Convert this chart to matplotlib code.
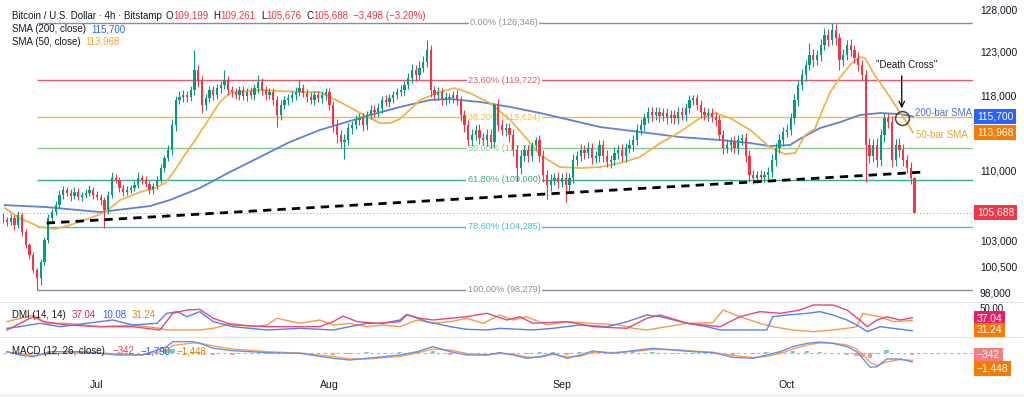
import matplotlib.pyplot as plt
import matplotlib.transforms as mtransforms
from matplotlib.lines import Line2D
from matplotlib.ticker import NullLocator, NullFormatter
import numpy as np

plt.rcParams['font.family'] = ['Liberation Sans', 'DejaVu Sans']

W, H = 1024, 397

# ---------------- data (x = days since 1 Jul, 12h candles) ----------------
bar_start = -12.5
first_open = 105300
closes = [
    104950, 104760, 105150, 104460, 105450, 103780, 102520, 101550, 100130, 99380,
    100890, 103000, 105150, 105750, 106440, 107450, 107960, 107650, 107350, 107750,
    107250, 107450, 107650, 107960, 107450, 107250, 106950, 105950, 107450, 109180,
    108980, 108160, 107750, 107960, 108160, 108470, 109180, 108980, 108570, 107960,
    108370, 108980, 110220, 111260, 112100, 114770, 117500, 117830, 118050, 117830,
    118610, 120860, 119730, 116950, 117720, 118610, 118050, 118830, 119170, 119730,
    118610, 118390, 118050, 118610, 117940, 118390, 118050, 118830, 119510, 118610,
    118050, 118390, 117500, 115850, 116950, 117500, 117720, 118050, 118390, 118830,
    118280, 117830, 117500, 118050, 117720, 118050, 118390, 116950, 114770, 113690,
    112950, 113160, 114440, 114770, 115310, 115520, 114770, 115850, 116400, 116180,
    116620, 117500, 117280, 117720, 118050, 118390, 118610, 119170, 119950, 120860,
    120290, 121090, 121770, 123160, 118610, 118050, 118390, 117500, 117830, 117720,
    118050, 117500, 115850, 114770, 113160, 113690, 114230, 113370, 113160, 113690,
    112950, 116950, 114770, 114230, 114440, 113690, 112100, 110220, 111470, 112100,
    111470, 112630, 113160, 111470, 109490, 108470, 108980, 109180, 108770, 109180,
    108470, 109180, 111050, 111470, 112100, 111790, 112310, 111260, 111470, 112630,
    111470, 110840, 111050, 111790, 112100, 111470, 112310, 112630, 113160, 114230,
    114770, 115520, 116180, 115850, 116180, 115740, 116070, 115520, 115850, 115520,
    116180, 115850, 116620, 117500, 117720, 116950, 116180, 115850, 116070, 115630,
    115310, 113690, 112310, 112630, 112950, 112310, 113160, 113370, 111470, 109490,
    109180, 109490, 109290, 109490, 109800, 111050, 112310, 113160, 114020, 114230,
    115520, 117500, 119170, 120290, 121430, 122580, 122000, 122580, 123740, 124900,
    124320, 125500, 124550, 122000, 122580, 123740, 123160, 122230, 121430, 120290,
    112630, 111470, 112630, 111050, 113690, 115520, 115090, 111050, 112630, 112100,
    111050, 110220, 109199, 105688,
]
# wick lengths beyond the body, in $100
wick_up = [
    4, 3, 4, 3, 4, 2, 3, 2, 3, 2,
    3, 3, 4, 3, 4, 5, 4, 3, 4, 5,
    4, 3, 4, 5, 3, 4, 3, 3, 4, 6,
    4, 3, 3, 4, 3, 4, 6, 3, 4, 3,
    3, 4, 4, 3, 5, 6, 5, 7, 6, 5,
    5, 23, 6, 4, 5, 5, 4, 5, 5, 11,
    5, 4, 5, 4, 5, 4, 6, 5, 8, 5,
    4, 5, 4, 5, 5, 4, 5, 5, 6, 9,
    5, 4, 6, 5, 4, 5, 4, 5, 4, 6,
    5, 6, 5, 4, 6, 5, 5, 4, 5, 6,
    5, 4, 6, 5, 4, 5, 6, 5, 6, 7,
    6, 8, 7, 12, 6, 5, 6, 5, 6, 5,
    5, 6, 5, 6, 5, 6, 5, 6, 5, 6,
    6, 2, 7, 5, 6, 5, 6, 5, 6, 5,
    5, 3, 3, 5, 6, 5, 6, 5, 6, 5,
    6, 5, 6, 5, 6, 5, 6, 5, 5, 5,
    5, 6, 5, 6, 5, 6, 5, 6, 5, 6,
    6, 5, 6, 5, 6, 5, 6, 5, 6, 5,
    5, 6, 5, 6, 3, 5, 6, 5, 6, 5,
    5, 6, 5, 6, 5, 6, 5, 4, 5, 6,
    5, 4, 5, 4, 5, 6, 5, 6, 5, 6,
    6, 7, 6, 7, 6, 14, 7, 6, 7, 8,
    7, 8.5, 7, 6, 7, 6, 7, 6, 7, 6,
    6, 7, 6, 7, 6, 5, 6, 7, 6, 7,
    6, 5, 6, 0.62,
]
wick_dn = [
    3, 4, 3, 5, 3, 4, 3, 4, 3, 11,
    6, 3, 3, 4, 3, 3, 4, 3, 5, 3,
    3, 4, 3, 3, 4, 3, 5, 18, 4, 3,
    3, 4, 4, 3, 3, 3, 3, 4, 3, 4,
    4, 3, 3, 4, 3, 5, 6, 4, 5, 6,
    4, 5, 8, 9, 5, 4, 6, 4, 5, 4,
    5, 6, 4, 5, 4, 5, 4, 6, 5, 5,
    5, 4, 6, 13, 5, 4, 5, 4, 5, 4,
    4, 5, 4, 5, 4, 5, 5, 6, 7, 8,
    6, 18, 5, 6, 4, 5, 6, 5, 4, 5,
    5, 6, 4, 5, 5, 4, 5, 6, 5, 6,
    7, 6, 5, 6, 8, 6, 5, 6, 5, 6,
    6, 5, 6, 7, 5, 6, 5, 6, 5, 6,
    6, 5, 6, 5, 6, 7, 6, 13, 6, 5,
    6, 5, 5, 6, 7, 14, 6, 5, 6, 5,
    17, 6, 5, 6, 5, 6, 5, 6, 5, 6,
    6, 5, 6, 5, 6, 5, 6, 5, 6, 5,
    5, 6, 5, 6, 5, 6, 5, 6, 5, 6,
    6, 5, 6, 5, 6, 5, 6, 5, 6, 5,
    6, 5, 6, 5, 6, 5, 6, 5, 6, 7,
    6, 5, 4, 5, 4, 5, 6, 5, 6, 5,
    5, 6, 7, 6, 7, 6, 8, 6, 7, 6,
    7, 6, 8, 11, 7, 6, 7, 6, 7, 6,
    38, 7, 6, 7, 6, 7, 6, 7, 6, 7,
    6, 5, 6, 0.12,
]

sma200_days = [-12.3, -6.9, 0.4, 7.1, 9.7, 13.7, 17.7, 21.7, 25.7, 29.7, 36.4, 40.4,
               44.4, 47.1, 51.1, 55.1, 59.1, 63.1, 67.1, 72.4, 77.7, 83.1, 87.1, 89.7,
               92.4, 93.7, 96.4, 99.1, 101.7, 104.4, 107.1, 108.8]
sma200 = [106440, 106250, 105750, 106350, 106950, 108160, 109800, 111360, 112950, 114230,
          115850, 116730, 117500, 117610, 117280, 116730, 116070, 115310, 114550, 114020,
          113480, 113160, 112840, 112520, 112630, 113270, 114440, 115090, 115850, 116070,
          115960, 115700]

sma50_days = [-12.3, -10.3, -7.6, -5.6, -3.6, -0.9, 1.1, 3.1, 5.7, 7.7, 9.1, 10.4, 11.7,
              13.1, 13.7, 15.1, 16.4, 17.7, 21.7, 27.1, 29.7, 32.4, 35.1, 37.7, 39.1, 40.4,
              43.1, 45.7, 47.7, 49.7, 52.4, 55.1, 57.1, 59.1, 61.7, 64.4, 67.1, 69.7, 72.4,
              75.1, 77.7, 80.4, 82.4, 84.4, 87.1, 89.7, 91.7, 93.1, 94.4, 95.7, 97.7, 99.1,
              100.4, 101.7, 102.4, 103.7, 105.1, 106.4, 107.3, 108.1, 108.8]
sma50 = [106150, 105150, 104270, 104070, 104460, 105150, 105750, 106950, 107750, 108160,
         108670, 110010, 111570, 113160, 113910, 115630, 117280, 118280, 118610, 118390,
         118390, 117280, 116070, 114980, 114980, 115420, 117500, 118390, 118830, 118280,
         117170, 115310, 113480, 111570, 110320, 110220, 110320, 110730, 111360, 112840,
         114020, 115530, 116070, 115530, 114230, 112420, 111680, 111790, 113690, 114340,
         118280, 120070, 121430, 122350, 122230, 120280, 118610, 116950, 115850, 114880,
         113968]

fib_pct = ["0.00%", "23.60%", "38.20%", "50.00%", "61.80%", "78.60%", "100.00%"]
fib_vals = [126346, 119722, 115624, 112312, 109000, 104285, 98279]
fib_colors = ["#8a8d96", "#e8596b", "#f5b84e", "#86c98a", "#3aa994", "#3cc4d6", "#8a8d96"]

trend_days = [-6.7, 110.1]
trend_vals = [104660, 109800]

# DMI (14, 14)
adx_days = [-12.0, -8.5, -7.2, -4.0, 0.4, 4.8, 8.4, 10.1, 12.0, 13.7, 15.5, 18.1, 22.7,
            27.1, 29.7, 31.5, 32.8, 34.7, 37.3, 40.4, 41.3, 43.1, 44.8, 47.1, 49.3, 52.0,
            54.7, 56.4, 58.1, 62.7, 66.1, 70.7, 73.3, 75.1, 78.7, 83.1, 85.7, 88.4, 91.1,
            93.7, 95.5, 98.1, 100.0, 101.7, 102.7, 104.0, 105.3, 107.1, 108.7]
adx = [11.5, 39.1, 28.8, 21.9, 18.4, 18.4, 11.5, 46.0, 52.9, 54.3, 35.7, 21.9, 18.4,
       18.4, 18.4, 28.8, 40.5, 28.8, 25.3, 28.8, 42.6, 35.7, 32.2, 35.7, 39.1, 46.0,
       32.2, 39.1, 25.3, 28.8, 18.4, 15.0, 35.7, 42.6, 25.3, 18.4, 39.1, 49.5, 46.0,
       52.9, 63.3, 63.3, 52.9, 32.2, 18.4, 32.2, 39.1, 32.2, 37.04]
pdi_days = [-12.0, -10.3, -7.6, -4.9, 0.4, 2.1, 4.8, 8.0, 9.3, 10.7, 12.0, 13.7, 15.5,
            18.1, 22.7, 27.1, 31.5, 33.7, 36.0, 38.1, 40.4, 41.3, 44.0, 47.1, 49.3, 52.0,
            53.7, 58.1, 60.8, 64.4, 68.0, 70.7, 73.3, 75.1, 78.7, 81.3, 83.1, 89.3, 90.1,
            92.0, 94.7, 96.4, 98.1, 100.0, 101.7, 102.7, 104.4, 106.1, 108.7]
pdi = [15.0, 18.4, 25.3, 18.4, 28.8, 32.2, 21.9, 25.3, 46.0, 49.5, 39.1, 49.5, 28.8,
       18.4, 11.5, 15.0, 11.5, 18.4, 25.3, 25.3, 32.2, 43.9, 28.8, 18.4, 12.9, 11.5,
       15.0, 11.5, 15.0, 21.9, 18.4, 28.8, 42.6, 39.1, 25.3, 18.4, 11.5, 11.5, 39.1,
       42.6, 46.0, 49.5, 42.6, 32.2, 18.4, 8.0, 18.4, 15.0, 10.08]
mdi_days = [-12.0, -8.5, -6.7, -4.0, 0.4, 4.8, 8.4, 9.3, 13.7, 15.5, 18.1, 20.8, 22.7,
            24.0, 27.1, 29.7, 31.5, 33.7, 36.0, 38.1, 40.4, 42.7, 44.8, 47.1, 49.3, 51.5,
            53.7, 55.5, 57.3, 60.0, 62.7, 66.1, 69.7, 71.5, 73.3, 76.0, 78.7, 82.1, 83.5,
            85.7, 88.4, 90.1, 92.8, 95.5, 98.1, 100.0, 101.3, 102.1, 103.1, 104.4, 106.1,
            108.7]
mdi = [28.8, 42.6, 25.3, 25.3, 18.4, 21.9, 15.0, 11.5, 11.5, 15.0, 25.3, 18.4, 21.9,
       35.7, 25.3, 32.2, 21.9, 25.3, 18.4, 21.9, 18.4, 32.2, 25.3, 28.8, 35.7, 25.3,
       42.6, 32.2, 39.1, 21.9, 28.8, 25.3, 21.9, 15.0, 11.5, 18.4, 25.3, 26.7, 52.9,
       39.1, 25.3, 18.4, 11.5, 8.0, 11.5, 15.0, 18.4, 46.0, 42.6, 39.1, 28.8, 31.24]

# MACD (12, 26, close)
macd_days = [-12.0, -10.3, -8.5, -6.3, -1.9, 2.7, 6.1, 9.3, 10.1, 12.8, 13.7, 15.5, 18.1,
             22.7, 27.1, 31.5, 33.7, 36.0, 40.4, 42.7, 44.8, 47.1, 49.3, 52.0, 53.7, 55.5,
             57.3, 59.1, 60.8, 62.7, 64.4, 66.1, 68.8, 71.5, 74.1, 76.8, 79.5, 82.1, 84.8,
             87.5, 89.3, 91.1, 92.8, 94.7, 96.4, 98.1, 100.0, 101.3, 102.1, 103.1, 104.0,
             105.3, 107.1, 108.7]
macd = [267, -400, -733, 267, 267, -400, -400, 1267, 2267, 2267, 1933, 933, 467, 67, -67,
        -1067, -1400, -1067, -400, 267, 1267, 267, -400, -400, 67, -400, -1067, -733, -67,
        -1067, -400, 400, -67, 467, 933, 600, 267, 67, -867, -1067, -400, 267, 1267, 1933,
        2200, 1933, 1267, 267, -1067, -2867, -2733, -1200, -1200, -1790]
signal = [200, -100, -500, -200, 150, -200, -350, 500, 1500, 2000, 2000, 1400, 800, 250, 0,
          -700, -1150, -1200, -700, 0, 800, 600, -100, -350, -100, -250, -800, -850, -300,
          -750, -650, 100, 100, 300, 700, 700, 400, 150, -500, -900, -700, -100, 800, 1600,
          2000, 2000, 1600, 800, -300, -1900, -2500, -1800, -1300, -1448]

month_days = [0, 31, 62, 92]
month_labels = ["Jul", "Aug", "Sep", "Oct"]
price_ticks = [98000, 100500, 103000, 110000, 118000, 123000, 128000]

# ---------------- figure ----------------
UP, DOWN = "#089981", "#f23645"
TXT = "#131722"
XMIN, XMAX = -12.53, 116.8
LEG = 7.0


def rect(top, bottom, left=3, right=973):
    return [left / W, 1 - bottom / H, (right - left) / W, (bottom - top) / H]


fig = plt.figure(figsize=(W / 100, H / 100), dpi=100)
renderer = fig.canvas.get_renderer()


def chain(x, y, parts, size=LEG):
    # write coloured pieces one after the other on one legend row
    for s, c, gap in parts:
        t = fig.text(x / W, 1 - y / H, s, color=c, fontsize=size, va="center", ha="left")
        x += t.get_window_extent(renderer=renderer).width + gap


ax = fig.add_axes(rect(0, 302))
ax_dmi = fig.add_axes(rect(302, 337))
ax_macd = fig.add_axes(rect(337, 376))

for a in (ax, ax_dmi, ax_macd):
    for s in a.spines.values():
        s.set_visible(False)
    a.set_xlim(XMIN, XMAX)
    a.tick_params(axis="x", length=0)
    a.set_xticks([])
    a.patch.set_alpha(0)

# price panel
ax.set_yscale("log")
ax.set_ylim(97170, 129090)

closes_a = np.array(closes, dtype=float)
opens_a = np.concatenate([[first_open], closes_a[:-1]])
days = bar_start + 0.5 * np.arange(len(closes_a))
highs = np.maximum(opens_a, closes_a) + np.array(wick_up) * 100
lows = np.minimum(opens_a, closes_a) - np.array(wick_dn) * 100
cols = [UP if c >= o else DOWN for o, c in zip(opens_a, closes_a)]

# fibonacci levels
for pct, v, c in zip(fib_pct, fib_vals, fib_colors):
    ax.hlines(v, -8.0, XMAX, color=c, lw=1.0, zorder=1)
    ax.text(54.3, v, f"{pct} ({v:,})", color=c, fontsize=6.6, ha="center", va="center",
            zorder=2, bbox=dict(boxstyle="square,pad=0.15", fc="white", ec="none"))

ax.plot(sma200_days, sma200, color="#5f80d8", lw=1.3, zorder=3)
ax.plot(sma50_days, sma50, color="#f1b44c", lw=1.3, zorder=3)

ax.vlines(days, lows, highs, colors=cols, lw=0.8, zorder=4)
body_lo = np.minimum(opens_a, closes_a)
body_h = np.maximum(np.abs(closes_a - opens_a), 40)
ax.bar(days, body_h, bottom=body_lo, width=0.3, color=cols, zorder=4, linewidth=0)

ax.plot(trend_days, trend_vals, color="black", lw=2, dashes=(3, 2.2), zorder=5)
ax.axhline(closes[-1], color=DOWN, lw=0.8, ls=(0, (1, 2)), alpha=0.6, zorder=1)

# death cross annotation
ax.annotate("", xy=(107.3, 116290), xytext=(107.3, 120520),
            arrowprops=dict(arrowstyle="->", color="black", lw=0.9), zorder=6)
ax.text(108.0, 121430, '"Death Cross"', ha="center", va="center", fontsize=7,
        color=TXT, zorder=6)
ax.plot(107.3, 115520, "o", ms=10, mfc="none", mec="#4d4a35", mew=1.1, zorder=6)
ax.text(109.1, 116070, "200-bar SMA", color="#4a72d6", fontsize=7, va="center", zorder=6)
ax.text(109.2, 113690, "50-bar SMA", color="#e7a33e", fontsize=7, va="center", zorder=6)

ax.yaxis.tick_right()
ax.set_yticks(price_ticks)
ax.set_yticklabels([f"{t:,}" for t in price_ticks])
ax.yaxis.set_minor_locator(NullLocator())
ax.yaxis.set_minor_formatter(NullFormatter())
ax.tick_params(axis="y", length=0, pad=5, labelsize=7.4, labelcolor=TXT)

tr = mtransforms.blended_transform_factory(ax.transAxes, ax.transData)
for v, s, c in [(115700, "115,700", "#2962ff"), (113968, "113,968", "#f57c00"),
                (105688, "105,688", DOWN)]:
    ax.text(1.004, v, s, transform=tr, color="white", fontsize=7.4, va="center", ha="left",
            clip_on=False, zorder=10,
            bbox=dict(boxstyle="square,pad=0.25", fc=c, ec="none"))

# DMI panel
ax_dmi.set_ylim(-3, 69.5)
ax_dmi.plot(mdi_days, mdi, color="#f39a4f", lw=1.0)
ax_dmi.plot(pdi_days, pdi, color="#5a7ee6", lw=1.0)
ax_dmi.plot(adx_days, adx, color="#e8467c", lw=1.0)
ax_dmi.yaxis.tick_right()
ax_dmi.set_yticks([57])
ax_dmi.set_yticklabels(["50.00"])
ax_dmi.tick_params(axis="y", length=0, pad=5, labelsize=7, labelcolor=TXT)
trd = mtransforms.blended_transform_factory(ax_dmi.transAxes, ax_dmi.transData)
for v, s, c in [(35.0, "37.04", "#e91e63"), (11.0, "31.24", "#f57c00")]:
    ax_dmi.text(1.004, v, s, transform=trd, color="white", fontsize=7.4, va="center",
                clip_on=False, zorder=10,
                bbox=dict(boxstyle="square,pad=0.25", fc=c, ec="none"))

# MACD panel
ax_macd.set_ylim(-4600, 3200)
ax_macd.axhline(0, color="#b2b5be", lw=0.8, dashes=(3, 3))
hist = np.array(macd) - np.array(signal)
hcol = ["#26a69a" if h >= 0 else "#ff5252" for h in hist]
ax_macd.bar(macd_days, hist, width=0.6, color=hcol, alpha=0.6)
ax_macd.plot(macd_days, signal, color="#f5a05a", lw=1.0)
ax_macd.plot(macd_days, macd, color="#6b8ee8", lw=1.0)
ax_macd.set_yticks([])
trm = mtransforms.blended_transform_factory(ax_macd.transAxes, ax_macd.transData)
for v, s, c in [(-500, "\u2212342", "#f77c80"), (-3100, "\u22121,448", "#f57c00")]:
    ax_macd.text(1.004, v, s, transform=trm, color="white", fontsize=7.4, va="center",
                 clip_on=False, zorder=10,
                 bbox=dict(boxstyle="square,pad=0.25", fc=c, ec="none"))
ax_macd.set_xticks(month_days)
ax_macd.set_xticklabels(month_labels)
ax_macd.tick_params(axis="x", length=0, pad=3, labelsize=7.6, labelcolor=TXT)

# panel separators
for y in (302, 337, 395):
    fig.add_artist(Line2D([0, 1], [1 - y / H] * 2, color="#e0e3eb", lw=0.8,
                          transform=fig.transFigure))

# legends
chain(12, 16, [("Bitcoin / U.S. Dollar \u00b7 4h \u00b7 Bitstamp", TXT, 4),
               ("O", TXT, 0), ("109,199", DOWN, 5), ("H", TXT, 0), ("109,261", DOWN, 5),
               ("L", TXT, 0), ("105,676", DOWN, 5), ("C", TXT, 0), ("105,688", DOWN, 5),
               ("\u22123,498 (\u22123.20%)", DOWN, 0)])
chain(12, 29, [("SMA (200, close)", TXT, 5), ("115,700", "#2962ff", 0)])
chain(12, 42, [("SMA (50, close)", TXT, 5), ("113,968", "#f5a623", 0)])
chain(12, 315, [("DMI (14, 14)", TXT, 6), ("37.04", "#e91e63", 6),
                ("10.08", "#2962ff", 6), ("31.24", "#f57c00", 0)])
chain(12, 351, [("MACD (12, 26, close)", TXT, 8), ("\u2212342", "#f23645", 6),
                ("\u22121,790", "#2962ff", 6), ("\u22121,448", "#f57c00", 0)])

fig.savefig("out.png", dpi=100, facecolor="white")
